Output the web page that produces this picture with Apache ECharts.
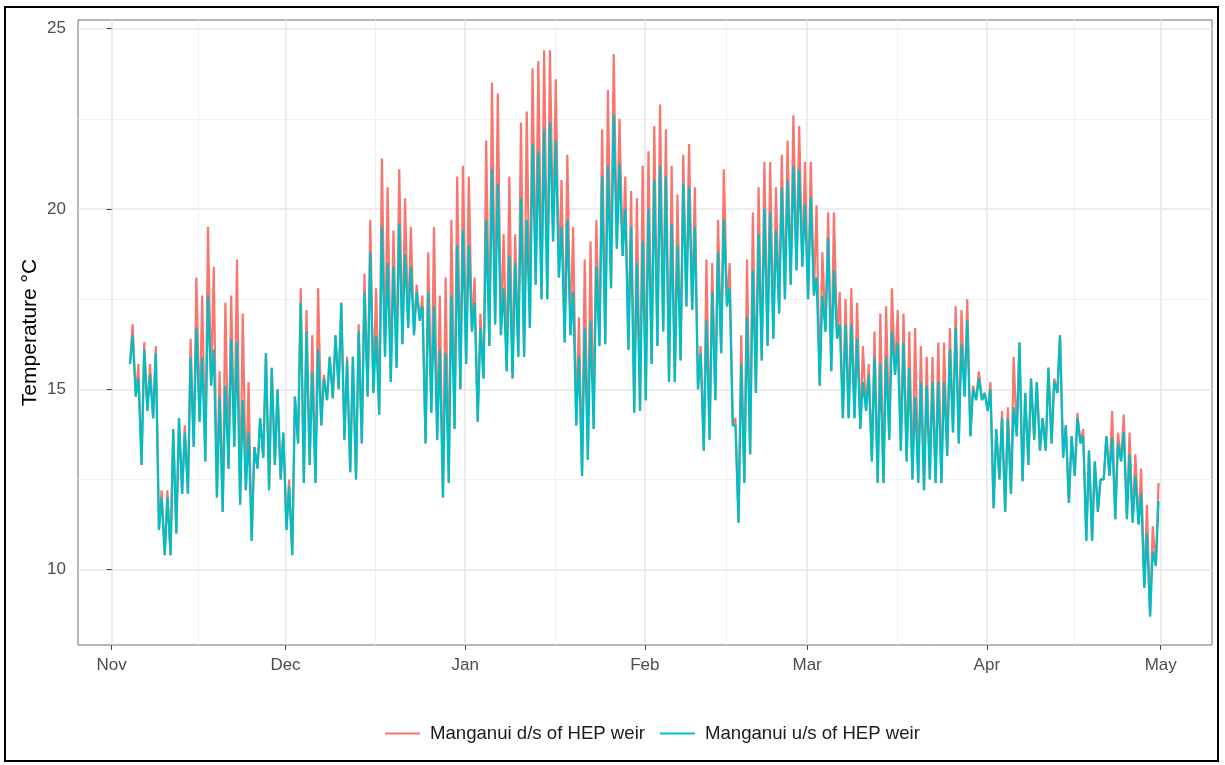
<!DOCTYPE html>
<html lang="en">
<head>
    <meta charset="UTF-8">
    <title>Manganui water temperature</title>
    <style>
        html, body { margin: 0; padding: 0; background: #fff; }
        #main { width: 1225px; height: 765px; }
    </style>
</head>
<body>
<div id="main"></div>
<script src="https://cdn.jsdelivr.net/npm/echarts@6/dist/echarts.min.js"></script>
<script type="text/javascript">
    // x is counted in days from 1 Nov 2020; logger record starts Nov 4 (day 3)
    var firstDay = 3;
    var seriesNames = ['Manganui d/s of HEP weir', 'Manganui u/s of HEP weir'];
    var seriesColors = ['#F8766D', '#00BFC4'];
    var monthStarts = [[2020, 10], [2020, 11], [2021, 0], [2021, 1], [2021, 2], [2021, 3], [2021, 4]];
    var monthLabels = ['Nov', 'Dec', 'Jan', 'Feb', 'Mar', 'Apr', 'May'];
    var tempTicks = [10, 15, 20, 25];
    var tempMinorTicks = [12.5, 17.5, 22.5];

    // early morning lows, both loggers overlap at night
    var dailyLow = [
        15.7, 14.8, 12.9, 14.4, 14.2, 11.1, 10.4, 10.4, 11.0, 12.1,
        12.1, 13.4, 14.1, 13.0, 15.1, 12.0, 11.6, 12.8, 13.4, 11.8,
        12.2, 10.8, 12.8, 13.1, 12.2, 12.9, 12.5, 11.1, 10.4, 13.5,
        12.4, 12.9, 12.4, 14.0, 14.7, 14.75, 15.0, 13.6, 12.7, 12.5,
        13.5, 14.8, 14.9, 14.3, 15.9, 15.2, 15.6, 16.25, 16.7, 16.5,
        16.9, 13.5, 14.35, 13.6, 12.0, 12.4, 13.9, 15.0, 15.7, 16.6,
        14.1, 15.3, 16.2, 16.8, 16.5, 15.5, 15.3, 15.9, 15.9, 16.7,
        17.9, 17.5, 17.5, 19.1, 18.1, 16.3, 16.5, 14.0, 12.6, 13.05,
        13.9, 16.2, 16.25, 17.8, 18.9, 18.7, 16.1, 14.35, 14.4, 14.7,
        15.7, 16.2, 16.6, 15.2, 15.2, 15.8, 17.3, 17.2, 15.0, 13.3,
        13.6, 14.7, 16.0, 17.3, 14.0, 11.3, 12.4, 13.2, 14.9, 15.8,
        16.2, 16.4, 17.1, 17.5, 17.9, 18.3, 18.4, 17.5, 17.6, 15.1,
        16.6, 15.5, 16.4, 14.2, 14.2, 14.2, 13.9, 14.4, 13.0, 12.4,
        12.4, 13.6, 15.4, 13.3, 13.0, 12.5, 12.4, 12.2, 12.5, 12.4,
        12.4, 13.15, 13.8, 13.5, 14.8, 13.7, 14.7, 14.7, 14.4, 11.7,
        12.5, 11.6, 12.1, 13.7, 12.45, 12.9, 13.6, 13.3, 13.3, 13.5,
        14.9, 13.1, 11.85, 12.6, 13.5, 10.8, 10.8, 11.6, 12.5, 12.6,
        11.4, 13.0, 11.4, 11.3, 11.25, 9.5, 8.7, 10.1
    ];
    // afternoon peaks, downstream of the weir
    var downPeak = [
        16.8, 15.7, 16.3, 15.7, 16.2, 12.2, 12.2, 13.9, 14.2, 14.0,
        16.4, 18.1, 17.6, 19.5, 18.4, 15.5, 17.4, 17.6, 18.6, 17.1,
        15.2, 13.4, 14.2, 16.0, 15.6, 15.0, 13.8, 12.5, 14.8, 17.8,
        17.2, 16.5, 17.8, 15.4, 15.9, 16.5, 17.4, 15.9, 15.9, 16.8,
        18.2, 19.7, 17.8, 21.4, 20.6, 19.4, 21.1, 20.3, 19.5, 17.9,
        17.6, 18.8, 19.5, 17.6, 18.1, 19.7, 20.9, 21.2, 20.9, 18.1,
        17.1, 21.9, 23.5, 23.2, 19.3, 20.9, 19.3, 22.4, 22.7, 23.9,
        24.1, 24.4, 24.4, 23.6, 20.8, 21.5, 19.5, 17.0, 18.6, 19.1,
        19.7, 22.2, 23.3, 24.3, 22.5, 20.9, 20.5, 20.3, 21.2, 21.6,
        22.3, 22.9, 22.2, 21.2, 20.4, 21.5, 21.8, 20.6, 16.2, 18.6,
        18.5, 19.7, 21.1, 18.5, 14.2, 16.5, 18.6, 19.9, 20.6, 21.3,
        21.3, 20.6, 21.5, 21.9, 22.6, 22.3, 21.3, 21.3, 20.1, 18.8,
        19.9, 19.9, 17.7, 17.5, 17.8, 17.4, 16.2, 15.7, 16.6, 17.1,
        17.3, 17.8, 17.2, 17.1, 16.6, 16.7, 16.2, 15.9, 15.9, 16.3,
        16.3, 16.7, 17.3, 17.2, 17.5, 15.1, 15.5, 14.9, 15.2, 13.9,
        14.4, 14.5, 15.9, 16.3, 14.9, 15.3, 15.2, 14.2, 15.6, 15.3,
        16.5, 14.0, 13.7, 14.35, 13.9, 13.3, 13.0, 12.5, 13.7, 14.4,
        13.8, 14.3, 13.8, 13.2, 12.8, 11.8, 11.2, 12.4
    ];
    // afternoon peaks, upstream of the weir
    var upPeak = [
        16.5, 15.3, 16.1, 15.4, 16.0, 12.0, 12.0, 13.9, 14.2, 13.8,
        15.9, 16.7, 15.9, 17.6, 16.1, 14.8, 15.1, 16.4, 16.3, 14.7,
        13.8, 13.4, 14.2, 16.0, 15.6, 15.0, 13.8, 12.3, 14.8, 17.4,
        16.6, 15.5, 16.1, 15.3, 15.9, 16.5, 17.4, 15.8, 15.9, 16.6,
        17.7, 18.8, 16.5, 19.5, 18.5, 18.4, 19.6, 18.75, 18.4, 17.7,
        17.3, 17.7, 17.3, 16.1, 16.0, 17.6, 19.0, 19.4, 19.0, 17.4,
        16.7, 19.7, 21.1, 20.7, 17.8, 18.7, 18.5, 20.3, 19.7, 21.8,
        21.6, 22.2, 22.4, 21.9, 19.5, 19.7, 17.7, 15.9, 16.7, 16.9,
        18.4, 20.9, 21.2, 22.6, 21.25, 20.0, 19.5, 18.5, 19.1, 20.0,
        20.8, 21.2, 20.9, 19.6, 19.0, 20.7, 20.6, 19.5, 16.0, 16.9,
        17.7, 18.8, 19.7, 17.8, 14.0, 15.7, 17.0, 18.3, 19.3, 20.0,
        19.9, 19.4, 20.6, 20.8, 21.2, 21.1, 20.1, 20.3, 18.1, 17.6,
        19.2, 18.3, 16.8, 16.8, 16.8, 16.4, 15.2, 15.4, 15.9, 15.7,
        15.9, 16.6, 16.3, 16.3, 15.6, 14.8, 15.2, 15.1, 15.2, 15.2,
        15.2, 16.1, 16.7, 16.25, 16.9, 15.0, 15.3, 14.9, 15.0, 13.9,
        14.2, 14.2, 14.5, 16.3, 14.9, 15.3, 15.2, 14.2, 15.6, 15.2,
        16.5, 14.0, 13.7, 14.2, 13.7, 13.3, 13.0, 12.5, 13.7, 13.65,
        13.5, 13.8, 13.2, 12.6, 12.1, 11.0, 10.5, 11.9
    ];

    var fontFam = '"Liberation Sans", Arial, sans-serif';
    var dayMs = 86400000;
    var origin = Date.UTC(2020, 10, 1);
    var xMin = -5.8, xMax = 189.85;
    var yMin = 7.91, yMax = 25.24;

    var monthDays = monthStarts.map(function (m) {
        return Math.round((Date.UTC(m[0], m[1], 1) - origin) / dayMs);
    });
    var midMonthDays = [];
    for (var k = 0; k < monthDays.length - 1; k++) {
        midMonthDays.push((monthDays[k] + monthDays[k + 1]) / 2);
    }

    function buildSeries(peaks) {
        var pts = [];
        for (var i = 0; i < peaks.length; i++) {
            var day = firstDay + i;
            pts.push([day + 4 / 24, dailyLow[i]]);
            pts.push([day + 15 / 24, peaks[i]]);
        }
        return pts;
    }

    var myChart = echarts.init(document.getElementById('main'), null, {renderer: 'canvas'});
    var option = {
        animation: false,
        backgroundColor: '#fff',
        textStyle: {fontFamily: fontFam},
        grid: {
            left: 78, right: 13, top: 20, bottom: 120,
            show: true, borderColor: '#6e6e6e', borderWidth: 1,
            containLabel: false
        },
        legend: {
            left: 380, top: 719,
            icon: 'rect', itemWidth: 35, itemHeight: 2, itemGap: 15,
            textStyle: {fontSize: 18.6, color: '#1a1a1a', fontFamily: fontFam, padding: [0, 0, 0, 5]},
            data: seriesNames
        },
        xAxis: [
            {
                type: 'value', min: xMin, max: xMax,
                axisLine: {show: false},
                axisTick: {show: true, length: 5, lineStyle: {color: '#444'}, customValues: monthDays},
                axisLabel: {
                    customValues: monthDays, fontSize: 17, color: '#4d4d4d', margin: 12, fontFamily: fontFam,
                    formatter: function (v) {
                        var j = monthDays.indexOf(Math.round(v));
                        return j >= 0 ? monthLabels[j] : '';
                    }
                },
                splitLine: {show: true, lineStyle: {color: '#E6E6E6', width: 1.5}}
            },
            {
                type: 'value', min: xMin, max: xMax, position: 'bottom',
                axisLine: {show: false},
                axisTick: {show: false, customValues: midMonthDays},
                axisLabel: {show: false},
                splitLine: {show: true, lineStyle: {color: '#F1F1F1', width: 1}}
            }
        ],
        yAxis: [
            {
                type: 'value', min: yMin, max: yMax,
                name: 'Temperature °C', nameLocation: 'middle', nameGap: 37,
                nameMoveOverlap: false,
                nameTextStyle: {fontSize: 21, color: '#000', fontFamily: fontFam},
                axisLine: {show: false},
                axisTick: {show: true, length: 5, lineStyle: {color: '#444'}, customValues: tempTicks},
                axisLabel: {customValues: tempTicks, fontSize: 17, color: '#4d4d4d', margin: 12, fontFamily: fontFam},
                splitLine: {show: true, lineStyle: {color: '#E6E6E6', width: 1.5}}
            },
            {
                type: 'value', min: yMin, max: yMax, position: 'left',
                axisLine: {show: false},
                axisTick: {show: false, customValues: tempMinorTicks},
                axisLabel: {show: false},
                splitLine: {show: true, lineStyle: {color: '#F1F1F1', width: 1}}
            }
        ],
        graphic: [{
            type: 'rect', z: 100,
            shape: {x: 5, y: 7, width: 1213, height: 754},
            style: {fill: 'none', stroke: '#000', lineWidth: 2}
        }],
        series: [
            {
                name: seriesNames[0], type: 'line', xAxisIndex: 0, yAxisIndex: 0,
                showSymbol: false, symbol: 'none',
                lineStyle: {width: 2.2, color: seriesColors[0]},
                itemStyle: {color: seriesColors[0]},
                data: buildSeries(downPeak)
            },
            {
                name: seriesNames[1], type: 'line', xAxisIndex: 0, yAxisIndex: 0,
                showSymbol: false, symbol: 'none',
                lineStyle: {width: 2.2, color: seriesColors[1]},
                itemStyle: {color: seriesColors[1]},
                data: buildSeries(upPeak)
            }
        ]
    };
    myChart.setOption(option);
</script>
</body>
</html>
